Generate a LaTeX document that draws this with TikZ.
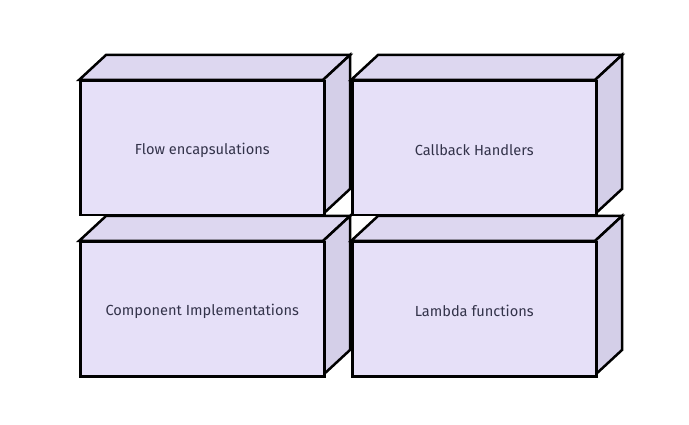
\documentclass[tikz,border=0pt]{standalone}
\usepackage{fontspec}
\setmainfont{Fira Sans}
\definecolor{frontc}{HTML}{E6E0F8}
\definecolor{topc}{HTML}{DDD7F0}
\definecolor{sidec}{HTML}{D4CFE8}
\definecolor{txtc}{HTML}{33334A}
\begin{document}
\begin{tikzpicture}[x=1pt,y=-1pt,
  face/.style={draw=black,line width=2.5pt,line join=miter},
  boxfront/.style={face,fill=frontc,minimum width=244pt,minimum height=134pt,anchor=north west,inner sep=0pt},
  label/.style={text=txtc,font=\fontsize{14.6pt}{17pt}\selectfont,yshift=-2pt}]
\useasboundingbox (0,0) rectangle (689,425);
\newcommand{\cuboid}[3]{%
  \fill[white] (#1,#2) -- ++(27,-25) -- ++(244,0) -- ++(0,134) -- ++(-27,25) -- cycle;
  \draw[face,fill=topc] (#1,#2) -- ++(27,-25) -- ++(244,0) -- ++(-27,25) -- cycle;
  \draw[face,fill=sidec] (#1+244,#2) -- ++(27,-25) -- ++(0,134) -- ++(-27,25) -- cycle;
  \node[boxfront] (#3) at (#1,#2) {};
}
\cuboid{79}{80}{b1}
\node[label] (t1) at (b1.center) {Flow encapsulations};
\cuboid{351}{80}{b2}
\node[label] (t2) at (b2.center) {Callback Handlers};
\cuboid{79}{241}{b3}
\node[label] (t3) at (b3.center) {Component Implementations};
\cuboid{351}{241}{b4}
\node[label] (t4) at (b4.center) {Lambda functions};
\end{tikzpicture}
\end{document}
